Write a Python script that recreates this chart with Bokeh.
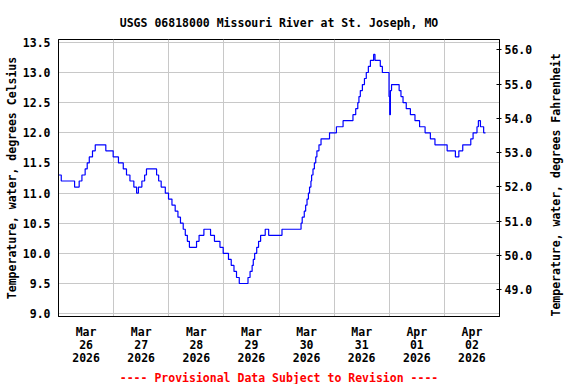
import math
from bokeh.plotting import figure
from bokeh.models import (Range1d, LinearAxis, FixedTicker, PrintfTickFormatter,
                          Title, ColumnDataSource)
from bokeh.embed import file_html
from bokeh.resources import INLINE

# ---- data (hours since 2026-03-26 00:00, water temperature in deg C) ----
hours = [0.0, 1.2, 7.0, 9.0, 10.2, 11.6, 12.5, 13.4, 14.8, 16.0,
         20.6, 23.8, 26.1, 28.2, 29.6, 31.1, 32.8, 34.0, 34.8, 36.3,
         37.5, 38.3, 42.7, 43.6, 44.7, 46.5, 47.9, 49.4, 50.8, 52.0,
         53.1, 54.3, 55.2, 56.1, 57.0, 60.1, 61.2, 63.3, 66.2, 67.9,
         70.3, 71.7, 74.0, 75.2, 76.4, 77.5, 78.7, 82.5, 83.4, 84.3,
         84.8, 85.4, 86.3, 87.1, 88.0, 90.0, 91.5, 97.3, 105.6, 106.1,
         107.0, 107.6, 108.2, 108.8, 109.3, 109.9, 110.2, 110.8, 111.4, 112.0,
         112.5, 113.4, 114.3, 118.0, 121.0, 123.9, 128.2, 129.4, 130.3, 130.8,
         131.4, 132.3, 133.2, 134.0, 134.9, 135.8, 137.2, 137.8, 140.1, 141.0,
         143.9, 144.2, 144.5, 145.0, 148.3, 149.1, 150.0, 151.4, 153.2, 155.2,
         157.2, 159.6, 161.9, 163.9, 169.2, 172.8, 174.3, 176.0, 179.5, 180.5,
         182.2, 182.8, 183.7, 185.1, 185.9]
temp_c = [11.3, 11.2, 11.1, 11.2, 11.3, 11.4, 11.5, 11.6, 11.7, 11.8,
          11.7, 11.6, 11.5, 11.4, 11.3, 11.2, 11.1, 11.0, 11.1, 11.2,
          11.3, 11.4, 11.3, 11.2, 11.1, 11.0, 10.9, 10.8, 10.7, 10.6,
          10.5, 10.4, 10.3, 10.2, 10.1, 10.2, 10.3, 10.4, 10.3, 10.2,
          10.1, 10.0, 9.9, 9.8, 9.7, 9.6, 9.5, 9.6, 9.7, 9.8,
          9.9, 10.0, 10.1, 10.2, 10.3, 10.4, 10.3, 10.4, 10.5, 10.6,
          10.7, 10.8, 10.9, 11.0, 11.1, 11.2, 11.3, 11.4, 11.5, 11.6,
          11.7, 11.8, 11.9, 12.0, 12.1, 12.2, 12.3, 12.4, 12.5, 12.6,
          12.7, 12.8, 12.9, 13.0, 13.1, 13.2, 13.3, 13.2, 13.1, 13.0,
          12.6, 12.3, 12.7, 12.8, 12.7, 12.6, 12.5, 12.4, 12.3, 12.2,
          12.1, 12.0, 11.9, 11.8, 11.7, 11.6, 11.7, 11.8, 11.9, 12.0,
          12.1, 12.2, 12.1, 12.0, 12.0]

label_hours = [12, 36, 60, 84, 108, 132, 156, 180]
label_texts = ["Mar\n26\n2026", "Mar\n27\n2026", "Mar\n28\n2026", "Mar\n29\n2026",
               "Mar\n30\n2026", "Mar\n31\n2026", "Apr\n01\n2026", "Apr\n02\n2026"]
midnight_hours = [24, 48, 72, 96, 120, 144, 168]
c_ticks = [9.0, 9.5, 10.0, 10.5, 11.0, 11.5, 12.0, 12.5, 13.0, 13.5]
f_ticks = [49.0, 50.0, 51.0, 52.0, 53.0, 54.0, 55.0, 56.0]

title_text = "USGS 06818000 Missouri River at St. Joseph, MO"
left_label = "Temperature, water, degrees Celsius"
right_label = "Temperature, water, degrees Fahrenheit"
note_text = "---- Provisional Data Subject to Revision ----"

FONT = "DejaVu Sans Mono"
FS = "11.5px"

p = figure(width=576, height=384, output_backend="svg", toolbar_location=None,
           x_range=Range1d(0, 192), y_range=Range1d(8.953, 13.547),
           min_border_left=58, min_border_right=77, min_border_top=39,
           min_border_bottom=68, background_fill_color="white",
           border_fill_color="white")
p.outline_line_color = "black"
p.outline_line_width = 1

src = ColumnDataSource(data=dict(h=hours, c=temp_c))
p.step("h", "c", source=src, mode="after", line_color="#0000ff", line_width=1.2)

# title
p.title.text = title_text
p.title.align = "center"
p.title.text_font = FONT
p.title.text_font_size = FS
p.title.text_font_style = "bold"
p.title.text_color = "black"
p.title.standoff = 19


def style_axis(ax):
    ax.minor_tick_line_color = None
    ax.axis_line_color = "black"
    ax.major_tick_line_color = "black"
    ax.major_label_text_font = FONT
    ax.major_label_text_font_size = FS
    ax.major_label_text_font_style = "bold"
    ax.major_label_text_color = "black"
    ax.axis_label_text_font = FONT
    ax.axis_label_text_font_size = FS
    ax.axis_label_text_font_style = "bold"
    ax.axis_label_text_color = "black"


# x axis
xa = p.xaxis[0]
style_axis(xa)
xa.ticker = FixedTicker(ticks=label_hours)
xa.major_label_overrides = {h: t for h, t in zip(label_hours, label_texts)}
xa.major_tick_in = 0
xa.major_tick_out = 0
xa.major_label_standoff = 8
xa.major_label_text_line_height = 0.95

# left y axis
ya = p.yaxis[0]
style_axis(ya)
ya.ticker = FixedTicker(ticks=c_ticks)
ya.formatter = PrintfTickFormatter(format="%.1f")
ya.major_tick_in = 0
ya.major_tick_out = 0
ya.major_label_standoff = 8
ya.axis_label = left_label
ya.axis_label_standoff = 1

# right y axis (Fahrenheit)
p.extra_y_ranges = {"F": Range1d(48.22, 56.30)}
ra = LinearAxis(y_range_name="F", ticker=FixedTicker(ticks=f_ticks),
                formatter=PrintfTickFormatter(format="%.1f"))
style_axis(ra)
ra.major_tick_in = 3
ra.major_tick_out = 2
ra.major_label_standoff = 3
ra.axis_label = right_label
ra.axis_label_standoff = 21
ra.axis_label_orientation = math.pi / 2
ra.axis_label_align = "start"
p.add_layout(ra, "right")

# provisional note
p.add_layout(Title(text=note_text, align="center", text_color="red",
                   text_font=FONT, text_font_size=FS, text_font_style="bold",
                   standoff=0), "below")

# grids
p.xgrid[0].ticker = FixedTicker(ticks=midnight_hours)
p.xgrid[0].grid_line_color = "#c8c8c8"
p.ygrid[0].grid_line_color = "#c8c8c8"

open("out.html", "w").write(file_html(p, INLINE))
